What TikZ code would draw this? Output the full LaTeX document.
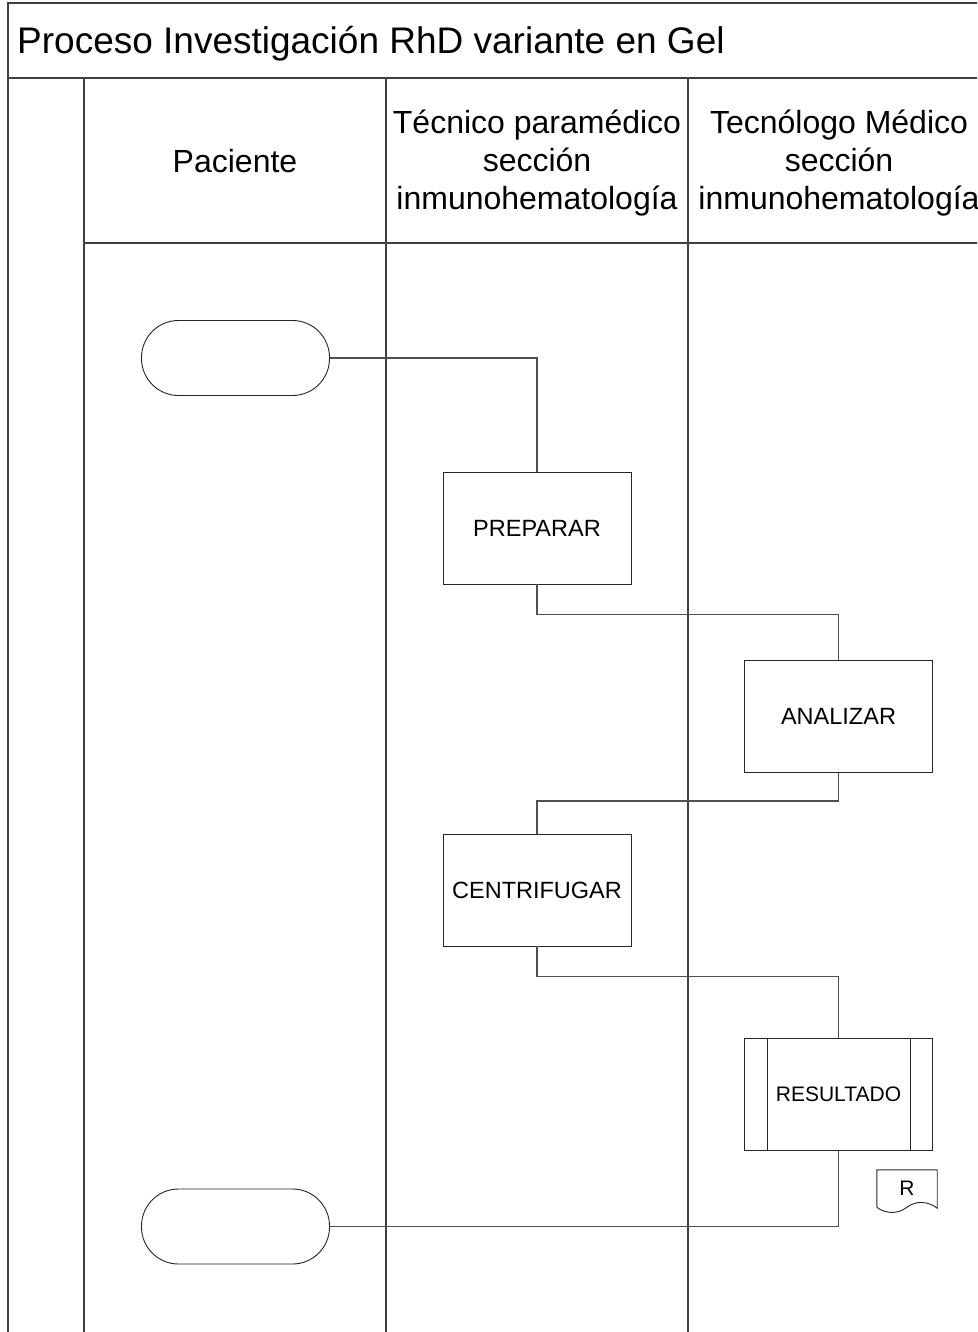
\documentclass[tikz,border=0pt]{standalone}
\usepackage{fontspec}
\setmainfont{Liberation Sans}
\usetikzlibrary{positioning,calc}
\definecolor{marco}{RGB}{64, 64, 64}
\definecolor{flujo}{RGB}{80, 80, 80}

\tikzset{
    carril/.style={draw=marco, line width=2pt},
    paso/.style={draw=black!85, line width=0.9pt, minimum width=188pt, minimum height=112pt, inner sep=0pt, font=\fontsize{23.5}{28}\selectfont},
    terminal/.style={draw=black!85, line width=0.9pt, rounded corners=37pt, minimum width=188pt, minimum height=75pt},
    conector/.style={draw=flujo, line width=1.5pt},
    encabezado/.style={align=center, font=\fontsize{32}{38}\selectfont}
}

\begin{document}
\begin{tikzpicture}[x=1pt, y=-1pt]
\useasboundingbox (0,0) rectangle (977,1332);
\clip (0,0) rectangle (977,1332);
\fill[white] (0,0) rectangle (977,1332);
% marco y carriles
\draw[carril] (8,3) rectangle (1000,1400);
\draw[carril] (8,78) -- (1000,78);
\draw[carril] (84,78) -- (84,1400);
\draw[carril] (386,78) -- (386,1400);
\draw[carril] (688,78) -- (688,1400);
\draw[carril] (84,243) -- (1000,243);
\node[anchor=base west, inner sep=0pt, font=\fontsize{37}{44}\selectfont] (titulo) at (17,54) {Proceso Investigación RhD variante en Gel};
\node[encabezado] (paciente) at (235,161) {Paciente};
\node[encabezado] (tecnico) at (537,163) {Técnico paramédico\\sección\\inmunohematología};
\node[encabezado] (tecnologo) at (839,163) {Tecnólogo Médico\\sección\\inmunohematología};
% pasos
\node[terminal] (inicio) at (235.5,358) {};
\node[paso] (preparar) at (537,528) {PREPARAR};
\node[paso] (analizar) at (838.5,716.5) {ANALIZAR};
\node[paso] (centrifugar) at (537,890) {CENTRIFUGAR};
\node[paso, font=\fontsize{21}{25}\selectfont] (resultado) at (838.5,1094.5) {RESULTADO};
\draw[draw=black!85, line width=0.9pt] ([xshift=23pt]resultado.north west) -- ([xshift=23pt]resultado.south west);
\draw[draw=black!85, line width=0.9pt] ([xshift=-23pt]resultado.north east) -- ([xshift=-23pt]resultado.south east);
\node[terminal] (fin) at (235.5,1226.5) {};
% documento R
\node[minimum width=60pt, minimum height=37pt, inner sep=0pt, font=\fontsize{21}{25}\selectfont] (reporte) at (907,1188.5) {R};
\draw[draw=black!85, line width=0.9pt] (reporte.south west) -- (reporte.north west) -- (reporte.north east) -- ([yshift=-1pt]reporte.south east)
    .. controls +(-9,-7) and +(9,-7) .. (reporte.south)
    .. controls +(-9,7) and +(9,7) .. (reporte.south west);
% conectores
\draw[conector] (inicio.east) -| (preparar.north);
\draw[conector] (preparar.south) -- ++(0,30) -| (analizar.north);
\draw[conector] (analizar.south) -- ++(0,28) -| (centrifugar.north);
\draw[conector] (centrifugar.south) -- ++(0,30) -| (resultado.north);
\draw[conector] (resultado.south) |- (fin.east);
\end{tikzpicture}
\end{document}
